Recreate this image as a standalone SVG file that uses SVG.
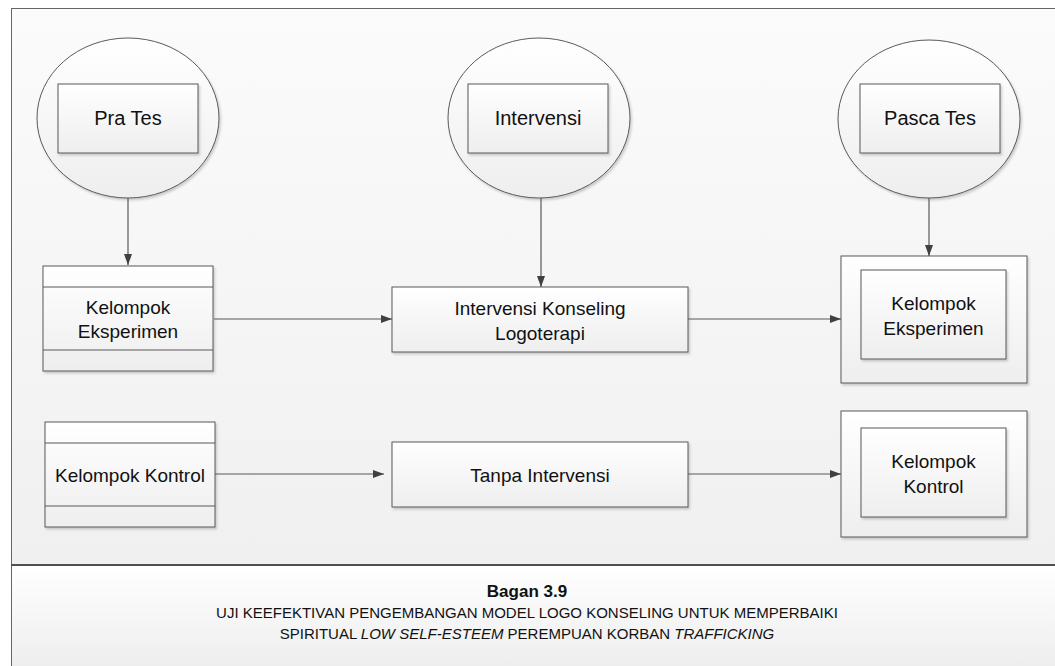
<svg xmlns="http://www.w3.org/2000/svg" width="1055" height="666" viewBox="0 0 1055 666">
  <defs>
    <linearGradient id="bgMain" x1="0" y1="0" x2="0" y2="1">
      <stop offset="0" stop-color="#fbfbfb"/>
      <stop offset="1" stop-color="#f0f0f0"/>
    </linearGradient>
    <linearGradient id="bgCap" x1="0" y1="0" x2="0" y2="1">
      <stop offset="0" stop-color="#ffffff"/>
      <stop offset="1" stop-color="#eeeeee"/>
    </linearGradient>
    <linearGradient id="shapeFill" x1="0" y1="0" x2="0" y2="1">
      <stop offset="0" stop-color="#ffffff"/>
      <stop offset="1" stop-color="#eeeeee"/>
    </linearGradient>
    <filter id="shadow" x="-10%" y="-10%" width="125%" height="130%">
      <feDropShadow dx="1.5" dy="2" stdDeviation="1" flood-color="#000" flood-opacity="0.18"/>
    </filter>
    <marker id="arrow" markerWidth="12" markerHeight="10" refX="11" refY="4" orient="auto" markerUnits="userSpaceOnUse">
      <path d="M0,0 L11,4 L0,8 Z" fill="#404040"/>
    </marker>
  </defs>
  <style>
    .shape { fill: url(#shapeFill); stroke: #595959; stroke-width: 1; filter: url(#shadow); }
    .div { stroke: #595959; stroke-width: 1; fill: none; }
    .t { font-family: "Liberation Sans", Arial, sans-serif; font-size: 19px; fill: #111; text-anchor: middle; }
    .tc { font-family: "Liberation Sans", Arial, sans-serif; font-size: 20px; fill: #111; text-anchor: middle; }
    .cap { font-family: "Liberation Sans", Arial, sans-serif; font-size: 15px; fill: #111; text-anchor: middle; }
    .title { font-family: "Liberation Sans", Arial, sans-serif; font-size: 17px; font-weight: bold; fill: #111; text-anchor: middle; }
    .conn { stroke: #595959; stroke-width: 1.2; fill: none; marker-end: url(#arrow); }
  </style>

  <rect x="0" y="0" width="1055" height="666" fill="#ffffff"/>
  <rect x="11" y="8" width="1050" height="557" fill="url(#bgMain)"/>
  <rect x="11" y="565" width="1050" height="101" fill="url(#bgCap)"/>
  <line x1="11" y1="8.5" x2="1055" y2="8.5" stroke="#666" stroke-width="1"/>
  <line x1="11.5" y1="8" x2="11.5" y2="666" stroke="#666" stroke-width="1"/>
  <line x1="11" y1="565" x2="1055" y2="565" stroke="#505050" stroke-width="2"/>

  <g id="node-pratest">
    <ellipse class="shape" cx="128" cy="118" rx="91" ry="80"/>
    <rect class="shape" x="58" y="84" width="140" height="69"/>
    <text class="tc" x="128" y="125">Pra Tes</text>
  </g>

  <g id="node-intervensi">
    <ellipse class="shape" cx="539" cy="118" rx="91" ry="80"/>
    <rect class="shape" x="468" y="84" width="140" height="69"/>
    <text class="tc" x="538" y="125">Intervensi</text>
  </g>

  <g id="node-pascatest">
    <ellipse class="shape" cx="929" cy="119" rx="91" ry="79"/>
    <rect class="shape" x="860" y="84" width="140" height="69"/>
    <text class="tc" x="930" y="125">Pasca Tes</text>
  </g>

  <g id="node-kelompok-eksperimen-pre">
    <rect class="shape" x="43" y="266" width="170" height="105"/>
    <line class="div" x1="43" y1="287" x2="213" y2="287"/>
    <line class="div" x1="43" y1="350" x2="213" y2="350"/>
    <text class="t" x="128" y="313.5">Kelompok</text>
    <text class="t" x="128" y="337.5">Eksperimen</text>
  </g>

  <g id="node-kelompok-kontrol-pre">
    <rect class="shape" x="45" y="422" width="170" height="105"/>
    <line class="div" x1="45" y1="443" x2="215" y2="443"/>
    <line class="div" x1="45" y1="506" x2="215" y2="506"/>
    <text class="t" x="130" y="481.5">Kelompok Kontrol</text>
  </g>

  <g id="node-intervensi-konseling">
    <rect class="shape" x="392" y="287" width="296" height="65"/>
    <text class="t" x="540" y="314.5">Intervensi Konseling</text>
    <text class="t" x="540" y="339.5">Logoterapi</text>
  </g>

  <g id="node-tanpa-intervensi">
    <rect class="shape" x="392" y="442" width="296" height="65"/>
    <text class="t" x="540" y="481.5">Tanpa Intervensi</text>
  </g>

  <g id="node-kelompok-eksperimen-post">
    <rect class="shape" x="841" y="256" width="186" height="127"/>
    <rect class="shape" x="861" y="270" width="145" height="89"/>
    <text class="t" x="933.5" y="309.5">Kelompok</text>
    <text class="t" x="933.5" y="334.5">Eksperimen</text>
  </g>

  <g id="node-kelompok-kontrol-post">
    <rect class="shape" x="841" y="411" width="186" height="126"/>
    <rect class="shape" x="861" y="428" width="145" height="89"/>
    <text class="t" x="933.5" y="467.5">Kelompok</text>
    <text class="t" x="933.5" y="492.5">Kontrol</text>
  </g>

  <g id="connectors">
    <line class="conn" x1="128" y1="198" x2="128" y2="265"/>
    <line class="conn" x1="541" y1="198" x2="541" y2="287"/>
    <line class="conn" x1="929" y1="198" x2="929" y2="256"/>
    <line class="conn" x1="214" y1="319" x2="392" y2="319"/>
    <line class="conn" x1="688" y1="319" x2="841" y2="319"/>
    <line class="conn" x1="215" y1="474" x2="384" y2="474"/>
    <line class="conn" x1="688" y1="474" x2="841" y2="474"/>
  </g>

  <g id="caption">
    <text class="title" x="527" y="597">Bagan 3.9</text>
    <text class="cap" x="527" y="618">UJI KEEFEKTIVAN PENGEMBANGAN MODEL LOGO KONSELING UNTUK MEMPERBAIKI</text>
    <text class="cap" x="527" y="639">SPIRITUAL <tspan font-style="italic">LOW SELF-ESTEEM</tspan> PEREMPUAN KORBAN <tspan font-style="italic">TRAFFICKING</tspan></text>
  </g>
</svg>
